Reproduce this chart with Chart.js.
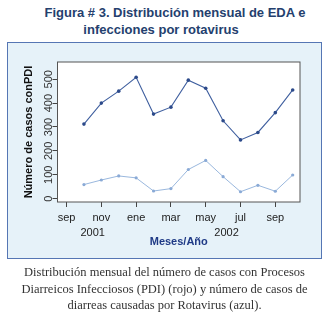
<!DOCTYPE html>
<html>
<head>
<meta charset="utf-8">
<script src="https://cdn.jsdelivr.net/npm/chart.js@4"></script>
<style>
  body { margin: 0; width: 329px; height: 317px; background: #fff; position: relative; overflow: hidden; }
  .titulo { position: absolute; left: 0; width: 350px; text-align: center;
    font: bold 13px "Liberation Sans", Arial, sans-serif; color: #24406e; line-height: 17px; }
  #panel { position: absolute; left: 7px; top: 42px; width: 313px; height: 215px;
    background: #e6f2f9; border: 1px solid #5576b4; }
  #grafico { position: absolute; left: 0; top: 0; }
  #leyenda { position: absolute; left: 0; top: 264px; width: 329px; text-align: center;
    font: 12.5px "Liberation Serif", "Times New Roman", serif; color: #333; line-height: 16.5px; }
</style>
</head>
<body>
<div class="titulo" style="top:4px">Figura # 3. Distribución mensual de EDA e</div>
<div class="titulo" style="top:21px; left:-14px">infecciones por rotavirus</div>
<div id="panel"></div>
<canvas id="grafico" width="329" height="317"></canvas>
<div id="leyenda">Distribución mensual del número de casos con Procesos<br>Diarreicos Infecciosos (PDI) (rojo) y número de casos de<br>diarreas causadas por Rotavirus (azul).</div>
<script>
// Meses: 0 = sep 2001 ... 13 = oct 2002
const meses = [1, 2, 3, 4, 5, 6, 7, 8, 9, 10, 11, 12, 13];
const casosPDI = [312, 400, 450, 508, 354, 383, 496, 462, 326, 246, 277, 360, 455];
const casosRotavirus = [59, 78, 95, 87, 32, 42, 122, 160, 92, 29, 56, 31, 99];

// Etiquetas del eje x
const posMeses = [0, 2, 4, 6, 8, 10, 12];
const nombresMeses = ['sep', 'nov', 'ene', 'mar', 'may', 'jul', 'sep'];
const posAnios = [1.5, 9.2];
const nombresAnios = ['2001', '2002'];
const ticksY = [0, 100, 200, 300, 400, 500];

const fuente = '"Liberation Sans", Arial, sans-serif';

// Fondo blanco y marco del área de trazado
const marco = {
    id: 'marco',
    beforeDraw(chart) {
        const a = chart.chartArea, ctx = chart.ctx;
        ctx.save();
        ctx.fillStyle = '#ffffff';
        ctx.fillRect(a.left, a.top, a.right - a.left, a.bottom - a.top);
        ctx.restore();
    },
    afterDraw(chart) {
        const a = chart.chartArea, ctx = chart.ctx;
        ctx.save();
        ctx.strokeStyle = '#555';
        ctx.lineWidth = 1;
        ctx.strokeRect(a.left, a.top, a.right - a.left, a.bottom - a.top);
        ctx.restore();
    }
};

new Chart(document.getElementById('grafico'), {
    type: 'line',
    data: {
        datasets: [{
            label: 'PDI',
            data: meses.map((m, i) => ({ x: m, y: casosPDI[i] })),
            borderColor: '#3f5f9f',
            backgroundColor: '#2c4a8a',
            borderWidth: 1.1,
            pointRadius: 1.8,
            pointBorderWidth: 0,
            tension: 0
        }, {
            label: 'Rotavirus',
            data: meses.map((m, i) => ({ x: m, y: casosRotavirus[i] })),
            borderColor: '#9ab8de',
            backgroundColor: '#8aaad6',
            borderWidth: 1,
            pointRadius: 1.6,
            pointBorderWidth: 0,
            tension: 0
        }]
    },
    options: {
        responsive: false,
        animation: false,
        layout: { padding: { top: 62, right: 29, left: 22, bottom: 68.7 } },
        plugins: { legend: { display: false }, tooltip: { enabled: false } },
        scales: {
            x: {
                type: 'linear',
                weight: 0,
                min: -0.52,
                max: 13.42,
                afterBuildTicks: (axis) => { axis.ticks = posMeses.map(v => ({ value: v })); },
                ticks: {
                    callback: (v) => nombresMeses[posMeses.indexOf(v)],
                    font: { family: fuente, size: 11 },
                    color: '#222',
                    padding: 4,
                    maxRotation: 0,
                    autoSkip: false
                },
                grid: { display: true, drawOnChartArea: false, drawTicks: true, tickLength: 5, color: '#444' },
                border: { display: false },
                afterFit: (axis) => { axis.height = 21; }
            },
            anio: {
                type: 'linear',
                position: 'bottom',
                weight: 1,
                min: -0.52,
                max: 13.42,
                afterBuildTicks: (axis) => { axis.ticks = posAnios.map(v => ({ value: v })); },
                ticks: {
                    callback: (v) => nombresAnios[posAnios.indexOf(v)],
                    font: { family: fuente, size: 11 },
                    color: '#222',
                    padding: 3,
                    maxRotation: 0,
                    autoSkip: false
                },
                grid: { display: false, drawTicks: false },
                border: { display: false },
                title: {
                    display: true,
                    text: 'Meses/Año',
                    font: { family: fuente, size: 11, weight: 'bold' },
                    color: '#1f3a86',
                    padding: { top: 0, bottom: 0 }
                },
                afterFit: (axis) => { axis.height = 25.3; }
            },
            y: {
                min: -14,
                max: 572,
                afterBuildTicks: (axis) => { axis.ticks = ticksY.map(v => ({ value: v })); },
                ticks: {
                    font: { family: fuente, size: 11 },
                    color: '#333',
                    minRotation: 90,
                    maxRotation: 90,
                    crossAlign: 'center',
                    padding: -6
                },
                grid: { display: true, drawOnChartArea: false, drawTicks: true, tickLength: 5, color: '#444' },
                border: { display: false },
                title: {
                    display: true,
                    text: 'Número de casos conPDI',
                    font: { family: fuente, size: 11, weight: 'bold' },
                    color: '#111',
                    padding: { top: 0, bottom: 2 }
                },
                afterFit: (axis) => { axis.width = 35.5; }
            }
        }
    },
    plugins: [marco]
});
</script>
</body>
</html>
